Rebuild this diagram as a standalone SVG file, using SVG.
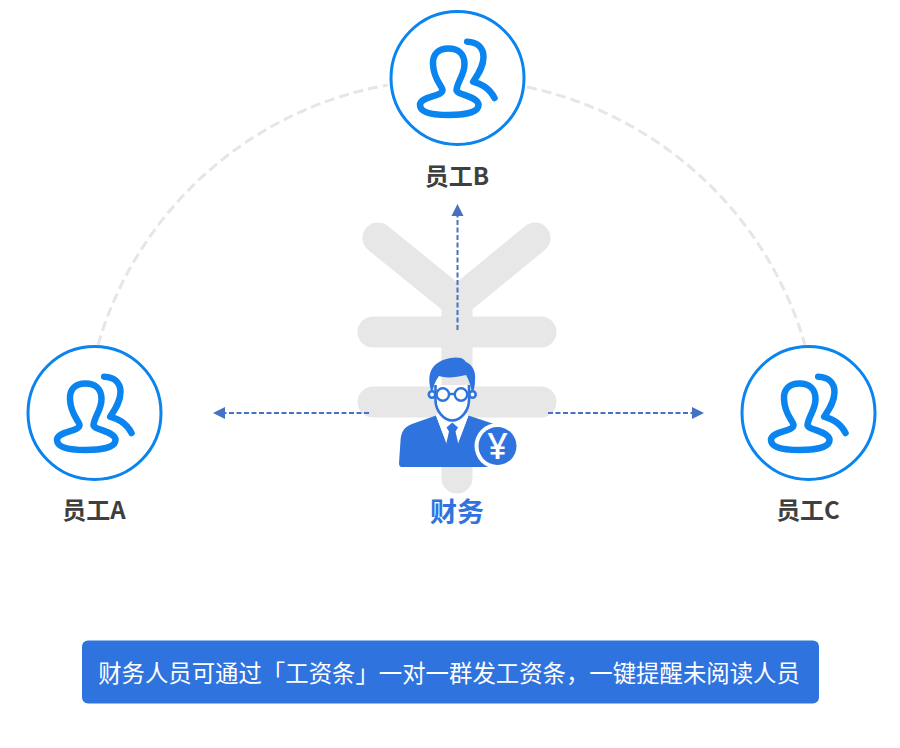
<svg xmlns="http://www.w3.org/2000/svg" width="900" height="748" viewBox="0 0 900 748">
<style>
.cjk{font-family:"Noto Sans CJK SC","Liberation Sans",sans-serif}
.lbl{font-size:24px;font-weight:700;fill:#3f3f3f;text-anchor:middle}
.ring{fill:#fff;stroke:#0a84ee;stroke-width:3}
.ico{fill:none;stroke:#0a84ee;stroke-width:6.5;stroke-linecap:round;stroke-linejoin:round}
.arc{fill:none;stroke:#e6e6e6;stroke-width:3;stroke-dasharray:10 5}
.flow{fill:none;stroke:#4472c4;stroke-width:2;stroke-dasharray:5 2.5}
.yen{fill:none;stroke:#e7e7e7;stroke-width:31;stroke-linecap:round;stroke-linejoin:miter}
</style>
<defs>
<marker id="ah" markerUnits="userSpaceOnUse" markerWidth="13" markerHeight="13" refX="0" refY="6.5" orient="auto"><path d="M0 0.5L12 6.5L0 12.5Z" fill="#4472c4"/></marker>
<g id="user">
<circle class="ring" cx="0" cy="0" r="66.5"/>
<path class="ico" d="M-15 12C-15 8-24 2-24.500-14C-25-24-19-29.500-9-29.500C1-29.500 7-24 7-14C7-3 0 3-1 12C-1 17 21 18 21 27C21 35 6 37-9 37C-24 37-37.500 35-37.500 27C-37.500 18-15 19-15 12Z"/>
<path class="ico" d="M9.700-36.300C20-36 26-30 26-21C26-11 20-3 15.700 3.700C23 6 31 9 37 20"/>
</g>
</defs>
<g id="connectors">
<path class="arc" d="M98 345A368 368 0 0 1 388 85"/>
<path class="arc" d="M527 87A368 368 0 0 1 805 345"/>
</g>
<g id="yen-bg">
<path class="yen" d="M378 238L457 302L535 238M457 302V478M373 332H541M373 402H541"/>
</g>
<g id="flows">
<path class="flow" d="M457.500 330V216" marker-end="url(#ah)"/>
<path class="flow" d="M369 413H225" marker-end="url(#ah)"/>
<path class="flow" d="M548 413H692" marker-end="url(#ah)"/>
</g>
<g id="node-a"><use href="#user" x="94.500" y="413"/><text class="cjk lbl" x="94" y="519">员工A</text></g>
<g id="node-b"><use href="#user" x="457.500" y="78"/><text class="cjk lbl" x="457" y="185">员工B</text></g>
<g id="node-c"><use href="#user" x="808.500" y="413"/><text class="cjk lbl" x="808" y="519">员工C</text></g>
<g id="node-finance">
<path d="M399 463L400.500 441C401 432 404 427 412 424L436 415.500L449 450H455.500L468.500 415.500L494 424L492 467H401.500C400 467 399 465.500 399 463Z" fill="#2f74de"/>
<path d="M436 415.500L440 410L452 420L464 410L468.500 415.500L455.500 450H449Z" fill="#fff"/>
<path d="M452.300 422.500L458 427.500L455.500 431.500L459.500 449L452.300 454L445 449L449 431.500L446.500 427.500Z" fill="#2f74de"/>
<path d="M435.500 385V400C435.500 411 444 420.500 452.300 420.500C460.500 420.500 469 411 469 400V385" fill="#fff" stroke="#2f74de" stroke-width="2.600"/>
<path d="M432 394C428 382 428 372 435 365C441 359 454 356 461 358C464 359 465 361 466 362C473 365 476 372 475 381C475 386 474 390 472 394C471 386 469 380 466 375C455 378 444 378 439 376C435 381 433 387 432 394Z" fill="#2f74de"/>
<circle cx="432" cy="394.500" r="3.200" fill="#fff" stroke="#2f74de" stroke-width="2.600"/>
<circle cx="472.500" cy="394.500" r="3.200" fill="#fff" stroke="#2f74de" stroke-width="2.600"/>
<circle cx="442.800" cy="394.500" r="6.200" fill="#fff" stroke="#2f74de" stroke-width="2.400"/>
<circle cx="461" cy="394.500" r="6.200" fill="#fff" stroke="#2f74de" stroke-width="2.400"/>
<path d="M449 394H455" stroke="#2f74de" stroke-width="2.400"/>
<circle cx="497.500" cy="446" r="23" fill="#fff"/>
<circle cx="497.500" cy="446" r="19" fill="#2f74de"/>
<text x="497.500" y="459" font-family="'Noto Sans','Liberation Sans',sans-serif" font-size="36" font-weight="500" fill="#fff" text-anchor="middle">¥</text>
<text class="cjk" x="457" y="522" font-size="27" font-weight="700" fill="#2f74de" text-anchor="middle">财务</text>
</g>
<g id="banner">
<rect x="82" y="640.500" width="737" height="63" rx="6" fill="#2f74de"/>
<text class="cjk" x="449" y="682" font-size="23.400" fill="#fff" text-anchor="middle">财务人员可通过「工资条」一对一群发工资条，一键提醒未阅读人员</text>
</g>
</svg>
